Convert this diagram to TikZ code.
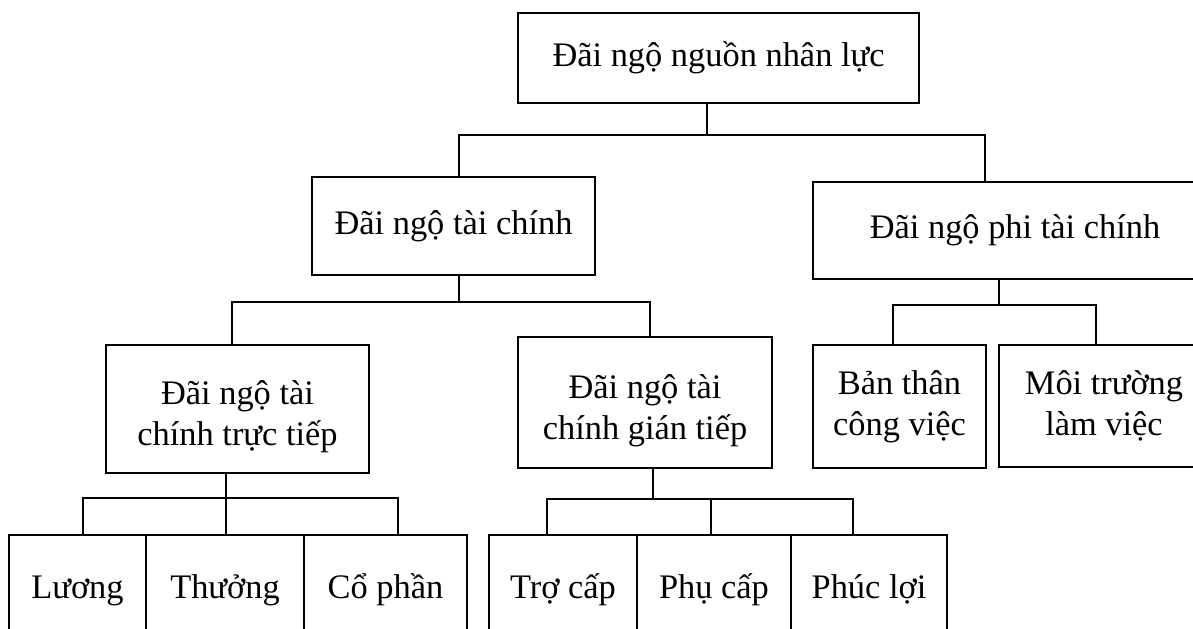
\documentclass[tikz,border=0pt]{standalone}
\usepackage{fontspec}
\setmainfont{Liberation Serif}
\tikzset{
  hop/.style={draw, line width=1pt, align=center, inner sep=0pt,
    font=\fontsize{17.2}{20.5}\selectfont},
  mot/.style={hop, text height=12.5pt, text depth=4.5pt},
  noi/.style={line width=1pt}
}
\begin{document}
\begin{tikzpicture}[x=0.5pt, y=-0.5pt]
\useasboundingbox (0,0) rectangle (1193,628);
\clip (0,0) rectangle (1193,628);

\node[mot, minimum width=200.5pt, minimum height=45pt] (goc) at (718.5, 58) {Đãi ngộ nguồn nhân lực};
\node[mot, minimum width=141.5pt, minimum height=49pt] (tc) at (453.5, 226) {Đãi ngộ tài chính};
\node[mot, minimum width=202pt, minimum height=48.5pt] (phi) at (1015, 230.5) {Đãi ngộ phi tài chính};
\node[hop, minimum width=131.5pt, minimum height=64pt] (tt) at (237.5, 409) {\rule{0pt}{20pt}Đãi ngộ tài\\chính trực tiếp};
\node[hop, minimum width=127pt, minimum height=65.5pt] (gt) at (645, 402.5) {\rule{0pt}{20pt}Đãi ngộ tài\\chính gián tiếp};
\node[hop, minimum width=86.5pt, minimum height=61.5pt] (bt) at (899.5, 406.5) {Bản thân\\công việc};
\node[hop, minimum width=105pt, minimum height=61pt] (mt) at (1104, 406) {Môi trường\\làm việc};
\node[mot, minimum width=68.5pt, minimum height=55pt] (luong) at (77.5, 590) {Lương};
\node[mot, minimum width=79pt, minimum height=55pt] (thuong) at (225, 590) {Thưởng};
\node[mot, minimum width=81.5pt, minimum height=55pt] (cophan) at (385.5, 590) {Cổ phần};
\node[mot, minimum width=74pt, minimum height=55pt] (trocap) at (563, 590) {Trợ cấp};
\node[mot, minimum width=77pt, minimum height=55pt] (phucap) at (714, 590) {Phụ cấp};
\node[mot, minimum width=78pt, minimum height=55pt] (phucloi) at (869, 590) {Phúc lợi};

\coordinate (m1) at (707, 135);
\coordinate (l1) at (459, 135);
\coordinate (r1) at (985, 135);
\coordinate (m2) at (459, 302);
\coordinate (l2) at (232, 302);
\coordinate (r2) at (650, 302);
\coordinate (m3) at (999, 305);
\coordinate (l3) at (893, 305);
\coordinate (r3) at (1096, 305);
\coordinate (m4) at (226, 498);
\coordinate (l4) at (83, 498);
\coordinate (r4) at (398, 498);
\coordinate (m5) at (653, 499);
\coordinate (l5) at (547, 499);
\coordinate (c5) at (711, 499);
\coordinate (r5) at (853, 499);

\draw[noi] (goc.south -| m1) to (m1);
\draw[noi] (tc.north -| l1) to (l1) to (r1) to (phi.north -| r1);

\draw[noi] (tc.south -| m2) to (m2);
\draw[noi] (tt.north -| l2) to (l2) to (r2) to (gt.north -| r2);

\draw[noi] (phi.south -| m3) to (m3);
\draw[noi] (bt.north -| l3) to (l3) to (r3) to (mt.north -| r3);

\draw[noi] (tt.south -| m4) to (thuong.north -| m4);
\draw[noi] (luong.north -| l4) to (l4) to (r4) to (cophan.north -| r4);

\draw[noi] (gt.south -| m5) to (m5);
\draw[noi] (trocap.north -| l5) to (l5) to (r5) to (phucloi.north -| r5);
\draw[noi] (c5) to (phucap.north -| c5);

\end{tikzpicture}
\end{document}
